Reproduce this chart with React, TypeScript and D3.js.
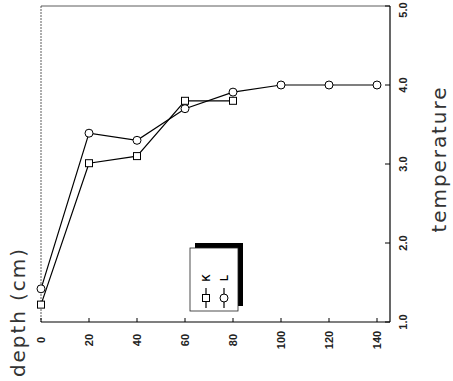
import React, { useEffect, useRef } from 'react'
import { select, scaleLinear, line } from 'd3'

const depthCm = [0, 20, 40, 60, 80, 100, 120, 140]
const tempK = [1.22, 3.01, 3.1, 3.8, 3.8]
const tempL = [1.42, 3.39, 3.3, 3.7, 3.91, 4.0, 4.0, 4.0]
const depthTicks = [0, 20, 40, 60, 80, 100, 120, 140]
const tempTicks = [1, 2, 3, 4, 5]
const seriesNames = ['K', 'L']
const seriesMarkers = ['square', 'circle']

const W = 453
const H = 381

export default function App() {
  const ref = useRef<SVGSVGElement | null>(null)

  useEffect(() => {
    const svg = select(ref.current)
    svg.selectAll('*').remove()

    const frame = { left: 41, right: 390, top: 6, bottom: 322 }

    const x = scaleLinear().domain([0, 140]).range([41, 377])
    const y = scaleLinear().domain([1, 5]).range([322, 6])

    // frame: left & top are faint in the scan, bottom & right solid
    svg.append('line')
      .attr('x1', frame.left).attr('x2', frame.left)
      .attr('y1', frame.top).attr('y2', frame.bottom)
      .attr('stroke', '#333').attr('stroke-width', 0.8)
      .attr('stroke-dasharray', '2,1')
    svg.append('line')
      .attr('x1', frame.left).attr('x2', frame.right)
      .attr('y1', frame.top).attr('y2', frame.top)
      .attr('stroke', '#333').attr('stroke-width', 0.8)
    svg.append('line')
      .attr('x1', frame.left).attr('x2', frame.right)
      .attr('y1', frame.bottom).attr('y2', frame.bottom)
      .attr('stroke', '#000').attr('stroke-width', 1.2)
    svg.append('line')
      .attr('x1', frame.right).attr('x2', frame.right)
      .attr('y1', frame.top).attr('y2', frame.bottom)
      .attr('stroke', '#000').attr('stroke-width', 1.2)

    const tickFont = 'Liberation Sans, Arial, sans-serif'
    const titleFont = 'DejaVu Sans, sans-serif'

    // depth ticks (bottom, pointing in)
    const bottomAxis = svg.append('g')
    bottomAxis.selectAll('line').data(depthTicks).enter().append('line')
      .attr('x1', d => x(d)).attr('x2', d => x(d))
      .attr('y1', frame.bottom).attr('y2', frame.bottom - 4)
      .attr('stroke', '#000').attr('stroke-width', 1)
    bottomAxis.selectAll('text').data(depthTicks).enter().append('text')
      .attr('transform', d => `translate(${x(d)},340) rotate(-90)`)
      .attr('text-anchor', 'middle')
      .attr('dominant-baseline', 'central')
      .attr('font-family', tickFont)
      .attr('font-size', 11)
      .attr('font-weight', 600)
      .attr('fill', '#222')
      .text(d => String(d))

    // temperature ticks (right, pointing in)
    const rightAxis = svg.append('g')
    rightAxis.selectAll('line').data(tempTicks).enter().append('line')
      .attr('x1', frame.right).attr('x2', frame.right - 5)
      .attr('y1', d => y(d)).attr('y2', d => y(d))
      .attr('stroke', '#000').attr('stroke-width', 1)
    rightAxis.selectAll('text').data(tempTicks).enter().append('text')
      .attr('transform', d => `translate(403,${Math.max(y(d), 10)}) rotate(-90)`)
      .attr('text-anchor', 'middle')
      .attr('dominant-baseline', 'central')
      .attr('font-family', tickFont)
      .attr('font-size', 11)
      .attr('font-weight', 600)
      .attr('fill', '#222')
      .text(d => d.toFixed(1))

    // axis titles
    svg.append('text')
      .attr('transform', 'translate(25,377) rotate(-90)')
      .attr('text-anchor', 'start')
      .attr('font-family', titleFont)
      .attr('font-size', 20)
      .attr('fill', '#333')
      .attr('textLength', 128)
      .attr('lengthAdjust', 'spacing')
      .text('depth (cm)')
    svg.append('text')
      .attr('transform', 'translate(446,160) rotate(-90)')
      .attr('text-anchor', 'middle')
      .attr('font-family', titleFont)
      .attr('font-size', 20)
      .attr('fill', '#333')
      .attr('textLength', 145)
      .attr('lengthAdjust', 'spacing')
      .text('temperature')

    const series = [
      depthCm.slice(0, tempK.length).map((d, i) => ({ d, t: tempK[i] })),
      depthCm.map((d, i) => ({ d, t: tempL[i] })),
    ]

    const path = line<{ d: number, t: number }>()
      .x(p => x(p.d))
      .y(p => y(p.t))

    for (let i = 0; i < series.length; ++i) {
      svg.append('path')
        .datum(series[i])
        .attr('fill', 'none')
        .attr('stroke', '#000')
        .attr('stroke-width', 1.2)
        .attr('d', path)
    }

    const drawMarker = (g: any, kind: string, cx: number, cy: number) => {
      if (kind === 'square') {
        g.append('rect')
          .attr('x', cx - 3.5).attr('y', cy - 3.5)
          .attr('width', 7).attr('height', 7)
          .attr('fill', '#fff').attr('stroke', '#000').attr('stroke-width', 1)
      } else {
        g.append('circle')
          .attr('cx', cx).attr('cy', cy).attr('r', 4)
          .attr('fill', '#fff').attr('stroke', '#000').attr('stroke-width', 1)
      }
    }

    for (let i = 0; i < series.length; ++i) {
      const g = svg.append('g')
      series[i].forEach(p => drawMarker(g, seriesMarkers[i], x(p.d), y(p.t)))
    }

    // legend with drop shadow
    const legend = svg.append('g')
    legend.append('rect')
      .attr('x', 195).attr('y', 243).attr('width', 48).attr('height', 63)
      .attr('fill', '#000')
    legend.append('rect')
      .attr('x', 190).attr('y', 248).attr('width', 48).attr('height', 63)
      .attr('fill', '#fff').attr('stroke', '#222').attr('stroke-width', 0.8)

    seriesNames.forEach((name, i) => {
      const lx = 206 + i * 18
      legend.append('text')
        .attr('transform', `translate(${lx},278) rotate(-90)`)
        .attr('text-anchor', 'middle')
        .attr('dominant-baseline', 'central')
        .attr('font-family', tickFont)
        .attr('font-size', 10)
        .attr('font-weight', 600)
        .text(name)
      legend.append('line')
        .attr('x1', lx).attr('x2', lx)
        .attr('y1', 288).attr('y2', 308)
        .attr('stroke', '#000').attr('stroke-width', 1.2)
      drawMarker(legend, seriesMarkers[i], lx, 298)
    })
  }, [])

  return (
    <svg
      ref={ref}
      width={W}
      height={H}
      style={{ position: 'absolute', left: 0, top: 0, background: '#fff' }}
    />
  )
}
